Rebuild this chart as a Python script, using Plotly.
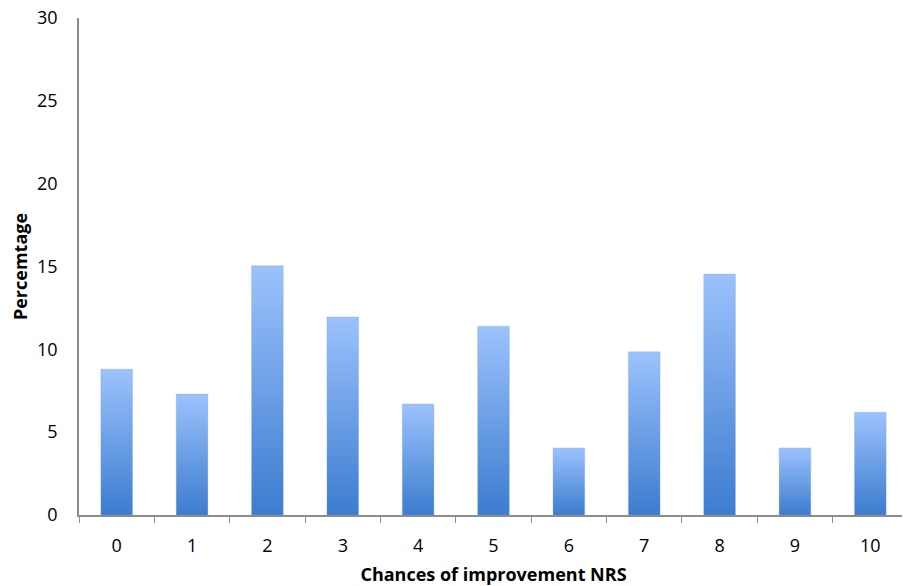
import plotly.graph_objects as go

categories = [0, 1, 2, 3, 4, 5, 6, 7, 8, 9, 10]
percentages = [8.8, 7.3, 15.05, 11.95, 6.7, 11.4, 4.05, 9.85, 14.55, 4.05, 6.2]
y_ticks = [0, 5, 10, 15, 20, 25, 30]

BAR_W = 0.42
FONT = "Open Sans"

fig = go.Figure()
for c, v in zip(categories, percentages):
    x0, x1 = c - BAR_W / 2, c + BAR_W / 2
    fig.add_trace(go.Scatter(
        x=[x0, x1, x1, x0, x0],
        y=[0, 0, v, v, 0],
        mode="lines",
        line=dict(width=0.6, color="rgba(120,160,220,0.5)"),
        fill="toself",
        fillgradient=dict(type="vertical",
                          colorscale=[[0, "#3c7ccf"], [1, "#9cc2fd"]]),
        hoverinfo="skip",
        showlegend=False,
    ))

fig.update_layout(
    width=902, height=578,
    margin=dict(l=71, r=2, t=10, b=71),
    paper_bgcolor="white", plot_bgcolor="white",
    font=dict(family=FONT, size=18, color="black"),
    showlegend=False,
)
fig.update_xaxes(
    range=[-0.5, 10.5], automargin=False,
    tickvals=categories, ticktext=[str(c) for c in categories],
    ticks="", showgrid=False, zeroline=False,
    showline=True, linecolor="#8c8c8c", linewidth=1.5,
    tickfont=dict(family=FONT, size=18),
    ticklabelstandoff=14, ticklabeloverflow="allow",
    minor=dict(tickvals=[c - 0.5 for c in categories] + [categories[-1] + 0.5],
               ticks="outside", ticklen=6, tickcolor="#8c8c8c", tickwidth=1.2,
               showgrid=False),
    title=dict(text="<b>Chances of improvement NRS</b>",
               font=dict(family=FONT, size=18), standoff=12),
)
fig.update_yaxes(
    range=[0, 30], tickvals=y_ticks, automargin=False,
    ticks="", showgrid=False, zeroline=False,
    showline=True, linecolor="#8c8c8c", linewidth=1.5,
    tickfont=dict(family=FONT, size=18),
    ticklabelstandoff=16, ticklabeloverflow="allow",
    title=dict(text="<b>Percemtage</b>", font=dict(family=FONT, size=18),
               standoff=11),
)

fig.write_html("out.html")
